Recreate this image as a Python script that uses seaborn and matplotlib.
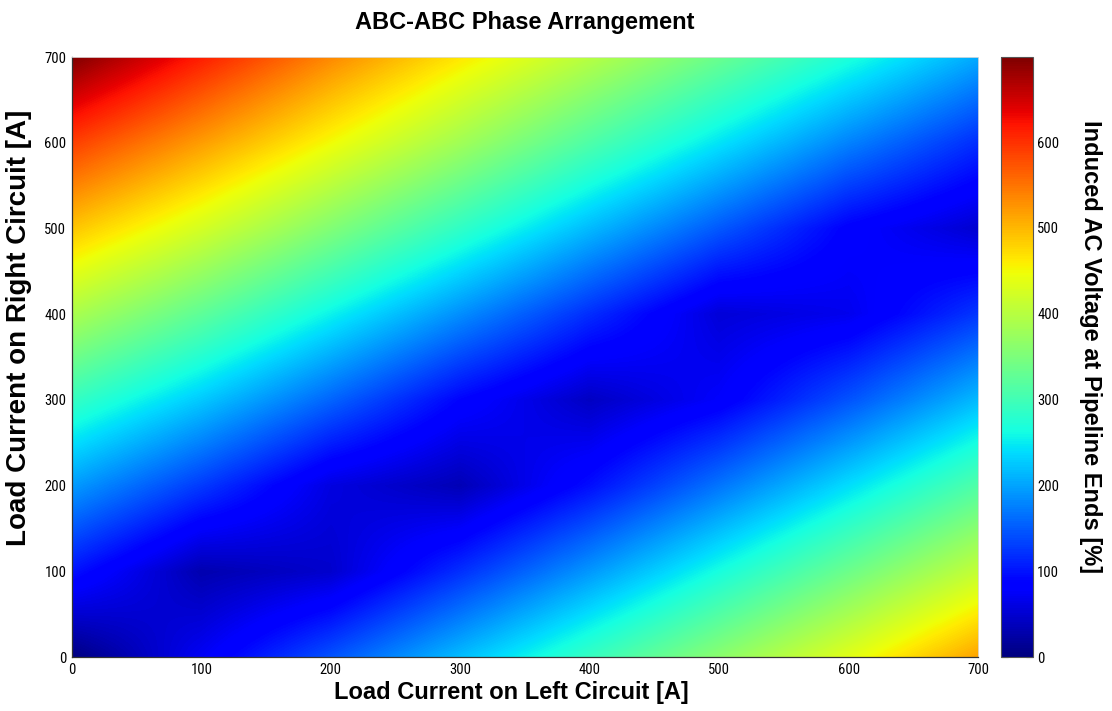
import numpy as np
import matplotlib
matplotlib.use("Agg")
import matplotlib.pyplot as plt
from matplotlib import font_manager
import seaborn as sns

# Load currents on the two circuits [A]
left_current = [0, 100, 200, 300, 400, 500, 600, 700]
right_current = [0, 100, 200, 300, 400, 500, 600, 700]

# Induced AC voltage at pipeline ends [%], one row per right-circuit current
v_right_0 = [0, 73, 145, 218, 291, 363, 436, 515]
v_right_100 = [100, 30, 48, 120, 192, 265, 337, 410]
v_right_200 = [195, 128, 60, 34, 97, 168, 240, 312]
v_right_300 = [290, 226, 157, 89, 42, 78, 145, 216]
v_right_400 = [390, 325, 255, 186, 119, 55, 68, 125]
v_right_500 = [490, 425, 355, 286, 216, 149, 85, 50]
v_right_600 = [590, 520, 450, 382, 312, 245, 178, 119]
v_right_700 = [699, 615, 535, 465, 400, 335, 270, 205]

voltage_rows = [v_right_0, v_right_100, v_right_200, v_right_300,
                v_right_400, v_right_500, v_right_600, v_right_700]

title_text = "ABC-ABC Phase Arrangement"
xlabel_text = "Load Current on Left Circuit [A]"
ylabel_text = "Load Current on Right Circuit [A]"
cbar_label_text = "Induced AC Voltage at Pipeline Ends [%]"
axis_ticks = [0, 100, 200, 300, 400, 500, 600, 700]
cbar_ticks = [0, 100, 200, 300, 400, 500, 600]

sns.set_style("white")

installed = {f.name for f in font_manager.fontManager.ttflist}
label_font = next((f for f in ["Liberation Sans", "Arial", "DejaVu Sans"] if f in installed), "DejaVu Sans")
tick_font = next((f for f in ["Liberation Sans Narrow", "DejaVu Sans Condensed", "Roboto Condensed",
                              "Liberation Sans", "DejaVu Sans"] if f in installed), "DejaVu Sans")
plt.rcParams["font.family"] = [label_font, "DejaVu Sans"]
plt.rcParams["text.color"] = "black"
plt.rcParams["axes.labelcolor"] = "black"
plt.rcParams["xtick.color"] = "black"
plt.rcParams["ytick.color"] = "black"

fig = plt.figure(figsize=(11.12, 7.11), dpi=100)
ax = fig.add_axes([0.0647, 0.0759, 0.8148, 0.8439])
cax = fig.add_axes([0.9002, 0.0759, 0.0288, 0.8439])

Z = np.array(voltage_rows, dtype=float)
step_x = left_current[1] - left_current[0]
step_y = right_current[1] - right_current[0]
# cell centres sit on the measured currents, so the bilinear surface passes through each value
extent = [left_current[0] - step_x / 2, left_current[-1] + step_x / 2,
          right_current[0] - step_y / 2, right_current[-1] + step_y / 2]
img = ax.imshow(Z, origin="lower", extent=extent, cmap="jet", vmin=0, vmax=699,
                interpolation="bilinear", interpolation_stage="data", aspect="auto")
ax.set_xlim(left_current[0], left_current[-1])
ax.set_ylim(right_current[0], right_current[-1])

ax.set_xticks(axis_ticks)
ax.set_yticks(axis_ticks)
ax.tick_params(direction="in", length=5, width=0.8, color="#333333",
               labelsize=10.5, pad=4, top=False, right=False)
for lbl in ax.get_xticklabels() + ax.get_yticklabels():
    lbl.set_fontfamily(tick_font)

for side in ["left", "bottom"]:
    ax.spines[side].set_color("#333333")
    ax.spines[side].set_linewidth(0.9)
for side in ["top", "right"]:
    ax.spines[side].set_color("#dddddd")
    ax.spines[side].set_linewidth(0.6)

ax.set_title(title_text, fontsize=17, fontweight="bold", pad=20)
ax.set_xlabel(xlabel_text, fontsize=17, fontweight="bold")
ax.set_ylabel(ylabel_text, fontsize=20, fontweight="bold")
ax.xaxis.set_label_coords(0.485, -0.04)
ax.yaxis.set_label_coords(-0.044, 0.548)

cb = fig.colorbar(img, cax=cax)
cb.set_ticks(cbar_ticks)
cb.outline.set_edgecolor("#555555")
cb.outline.set_linewidth(0.8)
cax.tick_params(direction="in", length=5, width=0.8, color="#333333",
                labelsize=10.5, left=True, right=True, pad=3)
for lbl in cax.get_yticklabels():
    lbl.set_fontfamily(tick_font)
cb.set_label(cbar_label_text, fontsize=17, fontweight="bold", rotation=270, va="bottom")
cax.yaxis.set_label_coords(2.43, 0.517)

fig.savefig("out.png", dpi=100)
